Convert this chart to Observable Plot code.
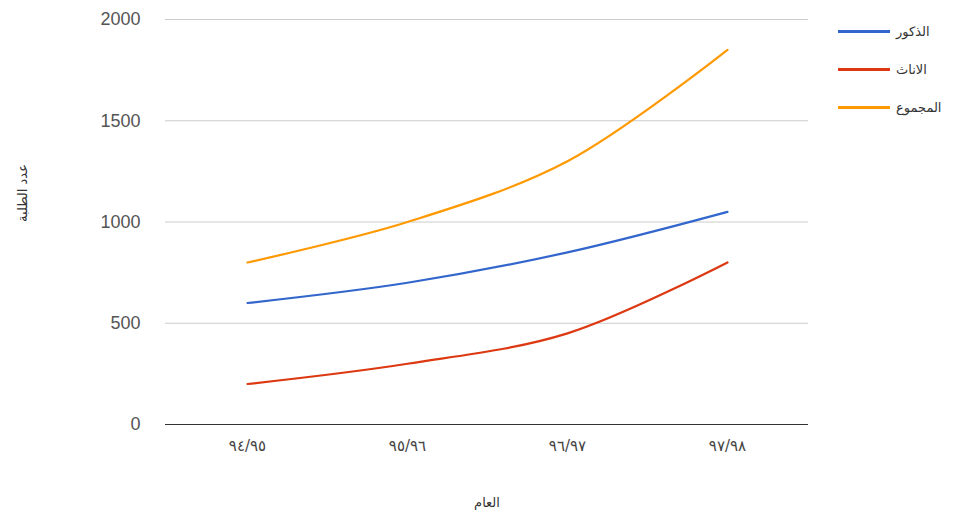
<!DOCTYPE html>
<html>
<head>
<meta charset="utf-8">
<script src="https://cdn.jsdelivr.net/npm/d3@7"></script>
<script src="https://cdn.jsdelivr.net/npm/@observablehq/plot@0.6"></script>
<style>
  html, body { margin: 0; padding: 0; background: #fff; }
  #wrap { position: relative; width: 976px; height: 524px; font-family: "Liberation Sans", Arial, sans-serif; }
  #legend { position: absolute; left: 838px; top: 12px; }
  .item { display: flex; align-items: center; height: 38px; }
  .swatch { width: 52px; height: 0; border-top: 3px solid; margin-right: 6px; }
  .name { font-family: "DejaVu Sans", sans-serif; font-size: 13px; color: #333; }
</style>
</head>
<body>
<div id="wrap"><div id="legend"></div></div>
<script>
// Student counts per academic year
const years = ["٩٤/٩٥", "٩٥/٩٦", "٩٦/٩٧", "٩٧/٩٨"];
const males = [600, 700, 850, 1050];
const females = [200, 300, 450, 800];
const totals = [800, 1000, 1300, 1850];
const seriesNames = ["الذكور", "الاناث", "المجموع"];
const seriesColors = ["#3366cc", "#dc3912", "#ff9900"];
const yTicks = [0, 500, 1000, 1500, 2000];

const seriesValues = [males, females, totals];
const rows = seriesNames.flatMap((name, i) =>
  years.map((year, j) => ({series: name, year, value: seriesValues[i][j]}))
);

const chart = Plot.plot({
  width: 976,
  height: 524,
  marginLeft: 165,
  marginRight: 168,
  marginTop: 19,
  marginBottom: 100,
  style: {background: "#fff", fontFamily: "Liberation Sans, Arial, sans-serif"},
  x: {type: "point", domain: years, padding: 0.5},
  y: {domain: [0, 2000]},
  color: {domain: seriesNames, range: seriesColors},
  marks: [
    Plot.gridY(yTicks, {stroke: "#cccccc", strokeOpacity: 1}),
    Plot.ruleY([0], {stroke: "#333"}),
    Plot.axisY(yTicks, {tickSize: 0, tickPadding: 25, fontSize: 18, color: "#555",
      label: null, tickFormat: d => String(d)}),
    Plot.axisX({tickSize: 0, tickPadding: 16, fontSize: 15, color: "#444", label: null,
      fontFamily: "DejaVu Sans, sans-serif"}),
    Plot.line(rows, {x: "year", y: "value", z: "series", stroke: "series",
      strokeWidth: 2.2, curve: "catmull-rom"}),
    Plot.text(["عدد الطلبة"], {frameAnchor: "left", dx: -143, rotate: -90,
      fontSize: 13, fill: "#333", fontFamily: "DejaVu Sans, sans-serif"}),
    Plot.text(["العام"], {frameAnchor: "bottom", dy: 82, fontSize: 13,
      fill: "#333", fontFamily: "DejaVu Sans, sans-serif"})
  ]
});
document.getElementById("wrap").prepend(chart);

const legend = document.getElementById("legend");
seriesNames.forEach((name, i) => {
  const item = document.createElement("div");
  item.className = "item";
  const sw = document.createElement("div");
  sw.className = "swatch";
  sw.style.borderTopColor = seriesColors[i];
  const label = document.createElement("span");
  label.className = "name";
  label.textContent = name;
  item.append(sw, label);
  legend.append(item);
});
</script>
</body>
</html>
